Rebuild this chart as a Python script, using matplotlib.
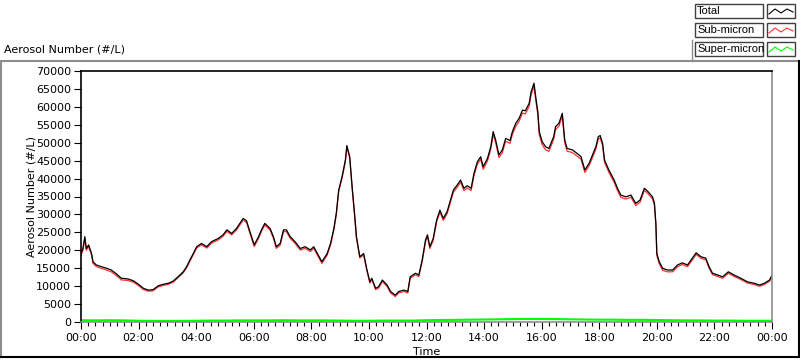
import numpy as np
import matplotlib
matplotlib.use('Agg')
import matplotlib.pyplot as plt
from matplotlib.lines import Line2D
from matplotlib.patches import Rectangle
from matplotlib.ticker import MultipleLocator, FuncFormatter

# minutes after midnight, total aerosol number (thousand #/L)
minutes = [0, 4, 8, 11, 16, 22, 25, 32, 43, 53, 63, 74, 84, 98, 109, 119, 130, 140,
           150, 161, 171, 182, 192, 202, 213, 220, 227, 234, 241, 251, 262, 272, 286,
           296, 304, 314, 324, 331, 338, 345, 352, 361, 370, 376, 383, 394, 401, 407,
           415, 422, 428, 436, 446, 457, 467, 478, 485, 502, 513, 520, 527, 532, 537,
           544, 551, 554, 560, 565, 570, 574, 581, 589, 596, 602, 606, 614, 620, 628,
           638, 645, 655, 662, 673, 681, 686, 697, 704, 711, 718, 722, 727, 734, 741,
           748, 755, 763, 769, 776, 784, 791, 798, 805, 813, 819, 826, 833, 838, 847,
           854, 859, 864, 871, 878, 885, 894, 899, 906, 913, 920, 926, 934, 938, 944,
           948, 952, 955, 961, 968, 975, 985, 989, 996, 1003, 1008, 1013, 1024, 1034,
           1042, 1050, 1059, 1066, 1073, 1078, 1082, 1087, 1091, 1100, 1111, 1118,
           1125, 1135, 1146, 1156, 1165, 1174, 1182, 1191, 1195, 1198, 1200, 1205,
           1212, 1222, 1233, 1243, 1253, 1264, 1274, 1282, 1292, 1302, 1309, 1316,
           1327, 1337, 1349, 1361, 1375, 1389, 1403, 1414, 1424, 1435, 1440]
total_k = [19.1, 20.5, 23.8, 20.5, 21.5, 19.1, 16.8, 15.9, 15.4, 15.0, 14.5, 13.4, 12.2,
           12.0, 11.5, 10.6, 9.4, 8.9, 9.0, 10.1, 10.5, 10.8, 11.4, 12.6, 14.0, 15.4,
           17.3, 19.1, 21.0, 21.9, 21.0, 22.4, 23.3, 24.3, 25.7, 24.7, 26.1, 27.5, 28.9,
           28.2, 25.2, 21.5, 23.8, 25.7, 27.5, 26.1, 23.8, 21.0, 21.9, 25.7, 25.7, 23.8,
           22.4, 20.5, 21.0, 20.1, 21.0, 16.8, 19.1, 21.9, 26.1, 30.3, 36.8, 40.5, 45.2,
           49.2, 46.1, 37.7, 30.3, 23.8, 18.2, 19.1, 14.5, 11.2, 12.2, 9.4, 9.8, 11.7,
           10.3, 8.5, 7.5, 8.5, 8.9, 8.5, 12.6, 13.6, 13.1, 17.3, 22.9, 24.3, 21.0, 23.3,
           28.4, 31.2, 28.9, 30.8, 33.6, 36.8, 38.2, 39.6, 37.3, 38.0, 37.3, 41.5, 44.7,
           46.1, 43.3, 45.6, 48.9, 53.1, 50.8, 46.6, 48.0, 51.2, 50.6, 53.1, 55.4, 56.8,
           59.1, 58.9, 61.0, 64.2, 66.6, 62.4, 58.6, 53.1, 50.3, 48.9, 48.4, 51.7, 54.5,
           55.4, 58.2, 50.8, 48.4, 48.0, 47.0, 46.1, 42.4, 44.3, 46.6, 48.9, 51.7, 52.0,
           49.8, 45.2, 42.4, 39.6, 37.3, 35.4, 34.9, 35.4, 33.1, 34.0, 37.3, 36.3, 34.9,
           33.1, 27.5, 19.1, 16.8, 15.0, 14.5, 14.5, 15.9, 16.5, 15.9, 17.8, 19.3, 18.2,
           17.8, 15.4, 13.6, 13.1, 12.6, 14.0, 13.1, 12.2, 11.2, 10.8, 10.3, 10.8, 11.7,
           13.1]

# super-micron, half-hourly (#/L)
super_hours = [h / 2 for h in range(49)]
super_micron = [500, 450, 500, 450, 350, 300, 300, 300, 350, 400, 400, 450, 450, 450,
                500, 450, 450, 450, 400, 350, 350, 400, 400, 400, 500, 550, 600, 650,
                700, 750, 800, 850, 850, 800, 750, 700, 650, 650, 600, 600, 550, 500,
                450, 450, 400, 400, 350, 350, 350]

t = np.array(minutes) / 60.0
total = np.array(total_k) * 1000
sub_micron = total - np.interp(t, super_hours, super_micron)

W, H = 800, 361
fig = plt.figure(figsize=(W / 100, H / 100), dpi=100)
plt.rcParams['font.family'] = 'DejaVu Sans'

def fx(px):
    return px / W

def fy(py):
    return 1 - py / H

ax = fig.add_axes([fx(81), fy(322), fx(772) - fx(81), fy(71) - fy(322)])
ax.plot(t, sub_micron, color='#ff3030', lw=0.9)
ax.plot(t, total, color='black', lw=0.9)
ax.plot(super_hours, super_micron, color='#00ff00', lw=1.5)

ax.set_xlim(0, 24)
ax.set_ylim(0, 70000)
ax.xaxis.set_major_locator(MultipleLocator(2))
ax.xaxis.set_minor_locator(MultipleLocator(0.25))
ax.xaxis.set_major_formatter(FuncFormatter(lambda v, p: '%02d:00' % (int(round(v)) % 24)))
ax.yaxis.set_major_locator(MultipleLocator(5000))
ax.tick_params(axis='both', labelsize=8, direction='out', width=0.8)
ax.tick_params(axis='x', which='major', length=5, pad=3)
ax.tick_params(axis='x', which='minor', length=3, width=0.8)
ax.tick_params(axis='y', length=5, pad=2)
for side in ['top', 'left']:
    ax.spines[side].set_color('black')
    ax.spines[side].set_linewidth(1.2)
for side in ['right', 'bottom']:
    ax.spines[side].set_color('#8c8c8c')
    ax.spines[side].set_linewidth(1.2)

ax.set_xlabel('Time', fontsize=8, labelpad=3)
ax.set_ylabel('Aerosol Number (#/L)', fontsize=8, labelpad=0)
fig.text(fx(4), fy(50), 'Aerosol Number (#/L)', fontsize=8, va='center', ha='left')

# outer panel border
fig.add_artist(Line2D([fx(0), fx(798)], [fy(61), fy(61)], color='#8c8c8c', lw=1.5))
fig.add_artist(Line2D([fx(1), fx(1)], [fy(61), fy(357)], color='#8c8c8c', lw=1.5))
fig.add_artist(Line2D([fx(1), fx(799)], [fy(357), fy(357)], color='black', lw=1.5))
fig.add_artist(Line2D([fx(799), fx(799)], [fy(61), fy(357)], color='black', lw=1.5))
fig.add_artist(Line2D([fx(692), fx(692)], [fy(40), fy(61)], color='#8c8c8c', lw=1))

# legend boxes
names = ['Total', 'Sub-micron', 'Super-micron']
colors = ['black', '#ff3030', '#00ff00']
for i, (name, c) in enumerate(zip(names, colors)):
    top = 4 + i * 19
    fig.add_artist(Rectangle((fx(695), fy(top + 14)), fx(763) - fx(695), fy(top) - fy(top + 14),
                             fill=False, edgecolor='#404040', lw=1))
    fig.text(fx(697), fy(top + 7), name, fontsize=8, va='center', ha='left',
             family='Liberation Sans')
    fig.add_artist(Rectangle((fx(767), fy(top + 14)), fx(795) - fx(767), fy(top) - fy(top + 14),
                             fill=False, edgecolor='#404040', lw=1))
    zx = [769, 775, 781, 787, 793]
    zy = [top + 10, top + 5, top + 9, top + 5, top + 8]
    fig.add_artist(Line2D([fx(v) for v in zx], [fy(v) for v in zy], color=c, lw=0.8))

fig.savefig('out.png', dpi=100)
